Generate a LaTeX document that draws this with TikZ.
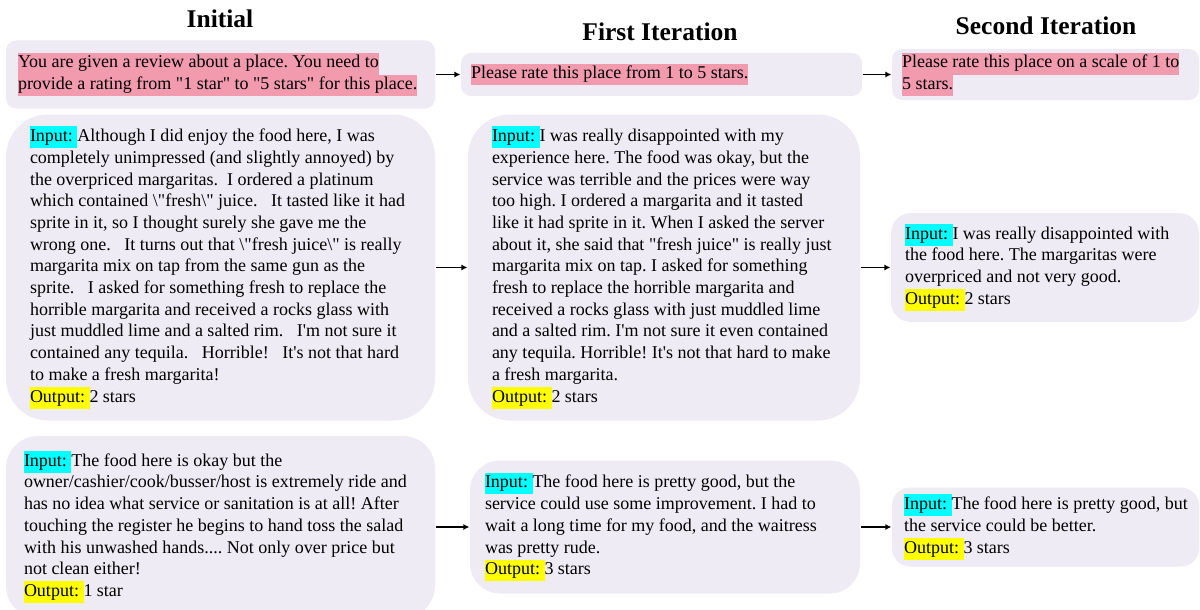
\documentclass[tikz,border=0pt]{standalone}
\usepackage{fontspec}
\setmainfont{Liberation Serif}[Ligatures=TeXOff]
\usepackage{xcolor}
\usetikzlibrary{arrows.meta}

\definecolor{boxgray}{RGB}{238,235,244}
\definecolor{promptpink}{RGB}{242,154,174}
\definecolor{inmark}{RGB}{0,255,255}
\definecolor{outmark}{RGB}{255,255,0}

\newcommand{\marked}[2]{{\setlength{\fboxsep}{0pt}\colorbox{#1}{\strut #2}}}
\newcommand{\inp}{\marked{inmark}{Input:\ }}
\newcommand{\outp}{\marked{outmark}{Output:\ }}
\newcommand{\bsl}{\textbackslash}

\begin{document}
\begin{tikzpicture}[x=1pt, y=-1pt, ->, >={Latex[length=6pt,width=6pt]}, line width=1.2pt,
  box/.style={rectangle, fill=boxgray, inner sep=0pt},
  txt/.style={anchor=west, inner sep=0pt, align=left, font=\fontsize{18}{21.7}\selectfont\frenchspacing},
  head/.style={anchor=base, inner sep=0pt, font=\fontsize{25.5}{30}\selectfont\bfseries}]
  \useasboundingbox (0,0) rectangle (1200,610);

  \node[head] (hI) at (220,28)  {Initial};
  \node[head] (hF) at (660,41)  {First Iteration};
  \node[head] (hS) at (1046,35) {Second Iteration};

  \node[box, rounded corners=10pt, minimum width=429, minimum height=68]  (I0) at (220.5,74.5)  {};
  \node[box, rounded corners=10pt, minimum width=401, minimum height=43]  (F0) at (661.5,74.5)  {};
  \node[box, rounded corners=10pt, minimum width=307, minimum height=51]  (S0) at (1045.5,74.5) {};
  \node[box, rounded corners=42pt, minimum width=429, minimum height=306] (I1) at (220.5,267.5) {};
  \node[box, rounded corners=42pt, minimum width=392, minimum height=306] (F1) at (664,267.5)   {};
  \node[box, rounded corners=20pt, minimum width=308, minimum height=109] (S1) at (1045,267.5)  {};
  \node[box, rounded corners=32pt, minimum width=429, minimum height=182] (I2) at (220.5,527)   {};
  \node[box, rounded corners=30pt, minimum width=390, minimum height=133] (F2) at (665,527)     {};
  \node[box, rounded corners=18pt, minimum width=307, minimum height=79]  (S2) at (1045.5,527)  {};

  \node[txt] (tI0) at ([xshift=12pt]I0.west) {\marked{promptpink}{You are given a review about a place. You need to}\\
    \marked{promptpink}{provide a rating from "1 star" to "5 stars" for this place.}};
  \node[txt] (tF0) at ([xshift=10pt]F0.west) {\marked{promptpink}{Please rate this place from 1 to 5 stars.}};
  \node[txt] (tS0) at ([xshift=10pt]S0.west) {\marked{promptpink}{Please rate this place on a scale of 1 to}\\
    \marked{promptpink}{5 stars.}};

  \node[txt] (tI1) at ([xshift=24pt]I1.west) {\inp Although I did enjoy the food here, I was\\
    completely unimpressed (and slightly annoyed) by\\
    the overpriced margaritas.\ \ I ordered a platinum\\
    which contained \bsl"fresh\bsl" juice.\ \ \ It tasted like it had\\
    sprite in it, so I thought surely she gave me the\\
    wrong one.\ \ \ It turns out that \bsl"fresh juice\bsl" is really\\
    margarita mix on tap from the same gun as the\\
    sprite.\ \ \ I asked for something fresh to replace the\\
    horrible margarita and received a rocks glass with\\
    just muddled lime and a salted rim.\ \ \ I'm not sure it\\
    contained any tequila.\ \ \ Horrible!\ \ \ It's not that hard\\
    to make a fresh margarita!\\
    \outp 2 stars};
  \node[txt] (tF1) at ([xshift=24pt]F1.west) {\inp I was really disappointed with my\\
    experience here. The food was okay, but the\\
    service was terrible and the prices were way\\
    too high. I ordered a margarita and it tasted\\
    like it had sprite in it. When I asked the server\\
    about it, she said that "fresh juice" is really just\\
    margarita mix on tap. I asked for something\\
    fresh to replace the horrible margarita and\\
    received a rocks glass with just muddled lime\\
    and a salted rim. I'm not sure it even contained\\
    any tequila. Horrible! It's not that hard to make\\
    a fresh margarita.\\
    \outp 2 stars};
  \node[txt] (tS1) at ([xshift=14pt]S1.west) {\inp I was really disappointed with\\
    the food here. The margaritas were\\
    overpriced and not very good.\\
    \outp 2 stars};

  \node[txt] (tI2) at ([xshift=18pt]I2.west) {\inp The food here is okay but the\\
    owner/cashier/cook/busser/host is extremely ride and\\
    has no idea what service or sanitation is at all! After\\
    touching the register he begins to hand toss the salad\\
    with his unwashed hands.... Not only over price but\\
    not clean either!\\
    \outp 1 star};
  \node[txt] (tF2) at ([xshift=15pt]F2.west) {\inp The food here is pretty good, but the\\
    service could use some improvement. I had to\\
    wait a long time for my food, and the waitress\\
    was pretty rude.\\
    \outp 3 stars};
  \node[txt] (tS2) at ([xshift=12pt]S2.west) {\inp The food here is pretty good, but\\
    the service could be better.\\
    \outp 3 stars};

  \path (I0) edge (F0)
        (F0) edge (S0)
        (I1) edge (F1)
        (F1) edge (S1)
        (I2) edge (F2)
        (F2) edge (S2);
\end{tikzpicture}
\end{document}
